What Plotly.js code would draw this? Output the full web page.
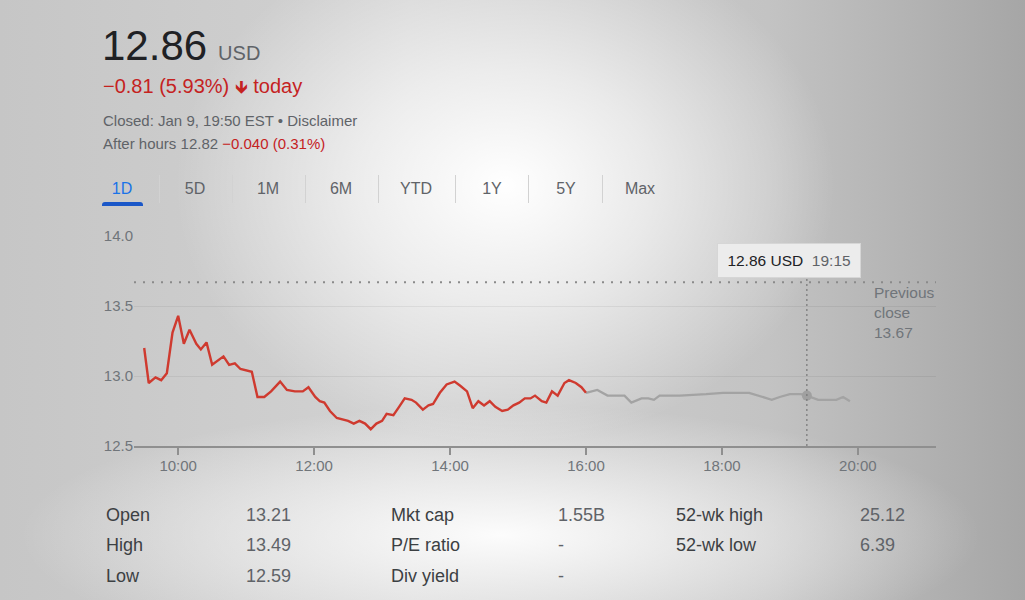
<!DOCTYPE html>
<html>
<head>
<meta charset="utf-8">
<script src="https://cdn.plot.ly/plotly-3.0.1.min.js"></script>
<style>
  html, body { margin:0; padding:0; }
  body {
    width:1025px; height:600px; overflow:hidden; position:relative;
    font-family: Arial, "Liberation Sans", sans-serif;
    background:
      radial-gradient(ellipse 330px 260px at 505px 185px, rgba(255,255,255,1) 0%, rgba(255,255,255,0.6) 45%, rgba(255,255,255,0) 100%),
      radial-gradient(ellipse 480px 130px at 500px 535px, rgba(252,252,252,1) 0%, rgba(252,252,252,0.5) 50%, rgba(252,252,252,0) 100%),
      linear-gradient(to right, #c6c6c6 0%, #d2d2d2 40%, #c3c3c3 75%, #a6a6a6 100%);
  }
  .abs { position:absolute; white-space:nowrap; }
  #chart { position:absolute; left:0; top:0; width:1025px; height:600px; }
  .tab { position:absolute; top:180px; font-size:16px; color:#5f6368; transform:translateX(-50%); }
  .sep { position:absolute; top:175px; width:1px; height:28px; background:#d2d2d2; }
  .st { position:absolute; font-size:18px; color:#3c4043; }
  .sv { position:absolute; font-size:18px; color:#5f6368; }
</style>
</head>
<body>
<div id="chart"></div>

<div class="abs" style="left:102px; top:25px; font-size:42px; color:#202124; line-height:42px;">12.86<span style="font-size:20px; color:#5f6368; margin-left:11px;">USD</span></div>
<div class="abs" style="left:103px; top:74px; font-size:20px; color:#c5221f;">−0.81 (5.93%) <span style="font-size:18px;">&#x1F87B;</span> today</div>
<div class="abs" style="left:103px; top:112px; font-size:15px; color:#5f6368;">Closed: Jan 9, 19:50 EST • Disclaimer</div>
<div class="abs" style="left:103px; top:135px; font-size:15px; color:#5f6368;">After hours 12.82 <span style="color:#c5221f;">−0.040 (0.31%)</span></div>

<div id="tabs"></div>
<div id="stats"></div>

<script>
// ---- data ----
const day = '2023-01-09 ';
const regularTimes = ['09:30','09:34','09:40','09:45','09:50','09:55','10:00','10:05','10:10','10:16','10:20','10:25','10:30','10:35','10:40','10:45','10:50','10:55','11:05','11:10','11:16','11:22','11:30','11:36','11:43','11:50','11:55','12:01','12:05','12:09','12:14','12:20','12:26','12:30','12:35','12:40','12:45','12:50','12:55','13:00','13:04','13:10','13:15','13:20','13:26','13:30','13:36','13:41','13:45','13:51','13:57','14:04','14:09','14:15','14:20','14:25','14:30','14:35','14:40','14:46','14:51','14:56','15:01','15:06','15:11','15:15','15:21','15:25','15:30','15:35','15:41','15:45','15:51','15:56','16:00'];
const regularPrices = [13.20,12.95,12.99,12.97,13.02,13.31,13.43,13.23,13.33,13.23,13.19,13.24,13.08,13.11,13.14,13.08,13.09,13.05,13.03,12.85,12.85,12.89,12.96,12.90,12.89,12.89,12.92,12.85,12.82,12.81,12.75,12.70,12.69,12.68,12.66,12.68,12.66,12.62,12.66,12.68,12.73,12.72,12.78,12.84,12.83,12.81,12.76,12.79,12.80,12.88,12.94,12.96,12.93,12.89,12.77,12.82,12.79,12.82,12.78,12.75,12.76,12.79,12.81,12.84,12.84,12.86,12.82,12.81,12.89,12.86,12.95,12.97,12.95,12.92,12.88];
const afterTimes = ['16:00','16:10','16:19','16:34','16:40','16:49','16:55','17:00','17:05','17:23','17:46','18:01','18:24','18:35','18:44','18:51','19:00','19:10','19:15','19:25','19:41','19:47','19:53'];
const afterPrices = [12.88,12.90,12.86,12.86,12.81,12.84,12.84,12.83,12.86,12.86,12.87,12.88,12.88,12.85,12.83,12.85,12.87,12.87,12.86,12.83,12.83,12.85,12.82];
const previousClose = 13.67;
const hoverTime = '19:15';
const hoverPrice = 12.86;
const xTickTimes = ['10:00','12:00','14:00','16:00','18:00','20:00'];
const yTickValues = [12.5, 13.0, 13.5, 14.0];
const tabLabels = ['1D','5D','1M','6M','YTD','1Y','5Y','Max'];
const statLabels1 = ['Open','High','Low'];
const statValues1 = ['13.21','13.49','12.59'];
const statLabels2 = ['Mkt cap','P/E ratio','Div yield'];
const statValues2 = ['1.55B','-','-'];
const statLabels3 = ['52-wk high','52-wk low'];
const statValues3 = ['25.12','6.39'];

// ---- header tabs ----
const tabCenters = [122,195,268,341,416,492,566,640];
const sepX = [159,232,305,378,455,528,602];
let th = '';
tabLabels.forEach((t,i)=>{
  const col = i===0 ? '#1a73e8' : '#5f6368';
  th += `<div class="tab" style="left:${tabCenters[i]}px;color:${col}">${t}</div>`;
});
sepX.forEach(x=>{ th += `<div class="sep" style="left:${x}px"></div>`; });
th += `<div class="abs" style="left:102px;top:202px;width:41px;height:4px;background:#1a57c8;border-radius:3px 3px 0 0"></div>`;
document.getElementById('tabs').innerHTML = th;

// ---- stats ----
const rowsY = [505,535,566];
let sh = '';
const cols = [[statLabels1,statValues1,106,246],[statLabels2,statValues2,391,558],[statLabels3,statValues3,676,860]];
cols.forEach(([L,V,lx,vx])=>{
  L.forEach((l,i)=>{
    sh += `<div class="st" style="left:${lx}px;top:${rowsY[i]}px">${l}</div>`;
    sh += `<div class="sv" style="left:${vx}px;top:${rowsY[i]}px">${V[i]}</div>`;
  });
});
document.getElementById('stats').innerHTML = sh;

// ---- chart ----
const toX = a => a.map(t => day + t);
const traces = [
  { x: toX(afterTimes), y: afterPrices, type:'scatter', mode:'lines',
    line:{color:'#a3a3a3', width:2.3}, hoverinfo:'skip' },
  { x: toX(regularTimes), y: regularPrices, type:'scatter', mode:'lines',
    line:{color:'#cf3a2f', width:2.4}, hoverinfo:'skip' },
  { x: [day+hoverTime], y:[hoverPrice], type:'scatter', mode:'markers',
    marker:{color:'#a0a0a0', size:10}, hoverinfo:'skip' }
];
const layout = {
  width:1025, height:600,
  margin:{l:134, r:89, t:236, b:154},
  paper_bgcolor:'rgba(0,0,0,0)', plot_bgcolor:'rgba(0,0,0,0)',
  showlegend:false,
  font:{family:'Arial, "Liberation Sans", sans-serif', color:'#70757a', size:15},
  xaxis:{
    type:'date', range:[day+'09:21', day+'21:09'],
    tickvals: toX(xTickTimes), ticktext: xTickTimes,
    showgrid:false, zeroline:false,
    showline:true, linecolor:'#8f8f8f', linewidth:2,
    ticks:'outside', ticklen:7, tickwidth:1.5, tickcolor:'#8f8f8f',
    ticklabelstandoff:-2,
    tickfont:{size:15, color:'#70757a'}, fixedrange:true
  },
  yaxis:{
    range:[12.5, 14.0], tickvals:yTickValues, ticktext: yTickValues.map(v=>v.toFixed(1)),
    showgrid:true, gridcolor:'rgba(0,0,0,0.06)', gridwidth:1,
    zeroline:false, showline:false, ticks:'',
    tickfont:{size:15, color:'#70757a'}, fixedrange:true
  },
  shapes:[
    { type:'line', xref:'paper', x0:0, x1:1, yref:'y', y0:previousClose, y1:previousClose,
      line:{color:'#8a8a8a', width:2, dash:'2px,7px'} },
    { type:'line', xref:'x', x0:day+hoverTime, x1:day+hoverTime, yref:'paper', y0:0, y1:0.80,
      line:{color:'#777777', width:1.2, dash:'2px,3px'} }
  ],
  annotations:[
    { xref:'x', x:day+hoverTime, xshift:-18, xanchor:'center', yref:'paper', y:(446-260.5)/210, yanchor:'middle',
      showarrow:false,
      text:'<span style="color:#202124">12.86 USD</span>  <span style="color:#5f6368">19:15</span>',
      font:{size:15.5}, bgcolor:'#ececec', bordercolor:'#d6d6d6', borderwidth:1,
      width:136, height:27, borderpad:3 },
    { xref:'paper', x:(872-134)/802, xanchor:'left', yref:'paper', y:(446-282)/210, yanchor:'top',
      showarrow:false, align:'left', text:'Previous<br>close<br>'+previousClose.toFixed(2),
      font:{size:15.5, color:'#70757a'} }
  ]
};
Plotly.newPlot('chart', traces, layout, {displayModeBar:false, staticPlot:true});
</script>
</body>
</html>
